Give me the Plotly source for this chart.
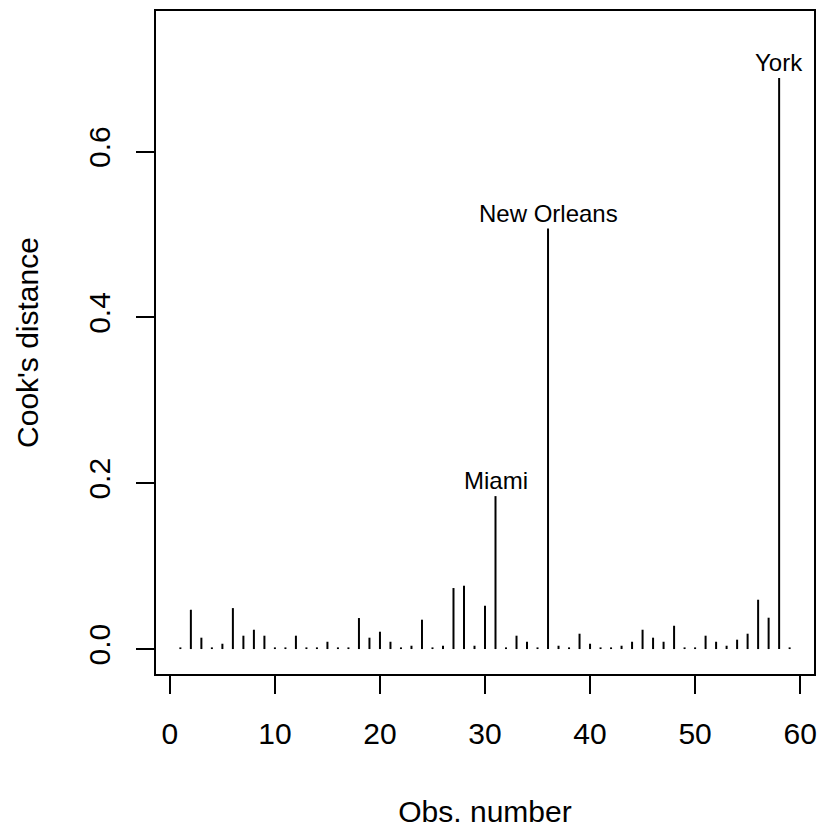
import plotly.graph_objects as go

obs = list(range(1, 60))
cooks = [
    0.002, 0.0474, 0.0137, 0.002, 0.0064, 0.0494, 0.0161, 0.0233, 0.0161, 0.002,
    0.002, 0.0161, 0.002, 0.002, 0.0088, 0.002, 0.002, 0.0374, 0.0137, 0.0209,
    0.0088, 0.002, 0.004, 0.0354, 0.002, 0.004, 0.0736, 0.0764, 0.004, 0.0523,
    0.1845, 0.002, 0.0161, 0.0088, 0.002, 0.5073, 0.004, 0.002, 0.0185, 0.0064,
    0.002, 0.002, 0.004, 0.0088, 0.0233, 0.0137, 0.0088, 0.0281, 0.002, 0.002,
    0.0161, 0.0088, 0.004, 0.0113, 0.0185, 0.0595, 0.0378, 0.689, 0.002,
]
label_obs = [31, 36, 58]
label_text = ["Miami", "New Orleans", "York"]
x_ticks = [0, 10, 20, 30, 40, 50, 60]
y_ticks = [0.0, 0.2, 0.4, 0.6]

xs, ys = [], []
for o, c in zip(obs, cooks):
    xs += [o, o, None]
    ys += [0, c, None]

fig = go.Figure()
fig.add_trace(go.Scatter(x=xs, y=ys, mode="lines",
                         line=dict(color="black", width=2),
                         hoverinfo="skip", showlegend=False))

for o, t in zip(label_obs, label_text):
    fig.add_annotation(x=o, y=cooks[o - 1], text=t, showarrow=False,
                       xanchor="center", yanchor="bottom", yshift=0,
                       font=dict(family="Liberation Sans, Arial", size=24, color="black"))

font = dict(family="Liberation Sans, Arial", size=30, color="black")
fig.update_layout(
    width=823, height=829,
    margin=dict(l=156, r=6, t=11, b=155),
    plot_bgcolor="white", paper_bgcolor="white",
    font=font,
    showlegend=False,
    xaxis=dict(range=[-1.32, 61.32], tickvals=x_ticks, ticks="outside", ticklen=18,
               tickwidth=2, tickcolor="black", showline=True, linecolor="black",
               linewidth=2, mirror=True, showgrid=False, zeroline=False,
               tickfont=font, ticklabelstandoff=14,
               title=dict(text="Obs. number", font=font, standoff=52)),
    yaxis=dict(range=[-0.0301, 0.7697], tickvals=y_ticks, tickformat=".1f",
               ticks="outside", ticklen=18, tickwidth=2, tickcolor="black",
               showline=True, linecolor="black", linewidth=2, mirror=True,
               showgrid=False, zeroline=False, tickangle=-90, tickfont=font,
               ticklabelstandoff=14,
               title=dict(text="Cook's distance", font=font, standoff=36)),
)

fig.write_html("out.html")
